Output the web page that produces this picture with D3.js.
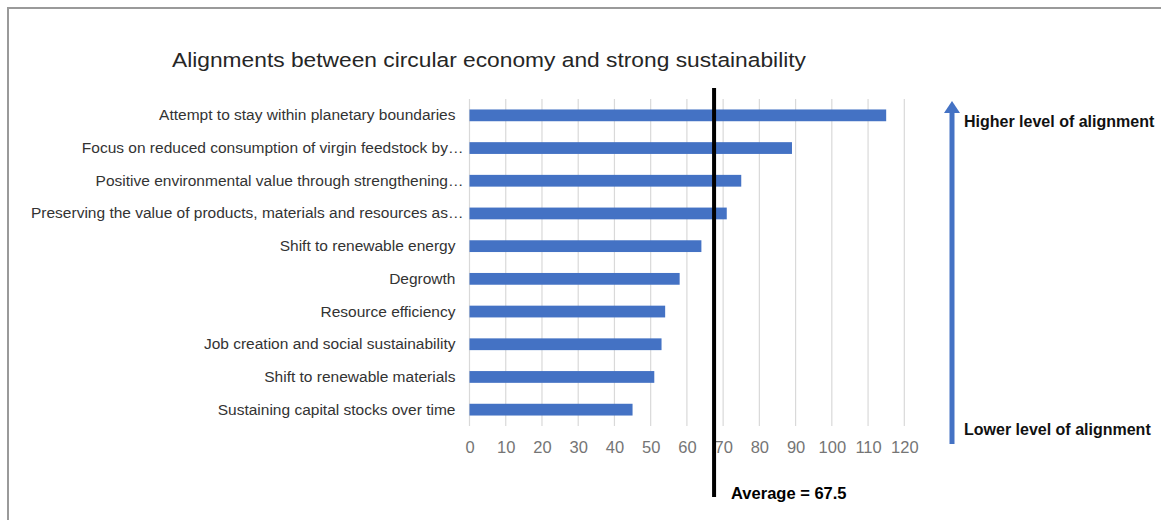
<!DOCTYPE html>
<html>
<head>
<meta charset="utf-8">
<script src="https://cdn.jsdelivr.net/npm/d3@7"></script>
<style>
  html, body { margin: 0; padding: 0; background: #fff; }
  svg { display: block; }
</style>
</head>
<body>
<svg id="chart" width="1161" height="520"></svg>
<script>
const categories = [
  "Attempt to stay within planetary boundaries",
  "Focus on reduced consumption of virgin feedstock by…",
  "Positive environmental value through strengthening…",
  "Preserving the value of products, materials and resources as…",
  "Shift to renewable energy",
  "Degrowth",
  "Resource efficiency",
  "Job creation and social sustainability",
  "Shift to renewable materials",
  "Sustaining capital stocks over time"
];
const values = [115, 89, 75, 71, 64, 58, 54, 53, 51, 45];
const tickValues = [0, 10, 20, 30, 40, 50, 60, 70, 80, 90, 100, 110, 120];
const averageValue = 67.5;
const titleText = "Alignments between circular economy and strong sustainability";
const averageLabel = "Average = 67.5";
const higherLabel = "Higher level of alignment";
const lowerLabel = "Lower level of alignment";

const svg = d3.select("#chart");
const fontFam = "'Liberation Sans', Arial, sans-serif";

// frame
svg.append("path")
  .attr("d", "M8,521 L8,8 L1162,8")
  .attr("fill", "none")
  .attr("stroke", "#9a9a9a")
  .attr("stroke-width", 2);

const plot = { left: 469.5, right: 904.3, top: 99, bottom: 426 };

const x = d3.scaleLinear().domain([0, 120]).range([plot.left, plot.right]);
const y = d3.scaleBand().domain(categories).range([plot.top, plot.bottom]).paddingInner(0.64).paddingOuter(0.32);

// title
svg.append("text")
  .attr("x", 172).attr("y", 67)
  .attr("font-family", fontFam)
  .attr("font-size", 20.5)
  .attr("fill", "#262626")
  .attr("textLength", 634)
  .attr("lengthAdjust", "spacingAndGlyphs")
  .text(titleText);

// gridlines
svg.append("g").selectAll("line")
  .data(tickValues)
  .join("line")
  .attr("x1", d => x(d)).attr("x2", d => x(d))
  .attr("y1", plot.top).attr("y2", plot.bottom)
  .attr("stroke", "#d9d9d9")
  .attr("stroke-width", 1.2);

// x axis
const xAxis = d3.axisBottom(x).tickValues(tickValues).tickSize(0).tickPadding(15);
const gx = svg.append("g").attr("transform", `translate(0,${plot.bottom})`).call(xAxis);
gx.select(".domain").remove();
gx.selectAll("text")
  .attr("font-family", fontFam)
  .attr("font-size", 16.5)
  .attr("fill", "#757575");

// y axis labels
const yAxis = d3.axisLeft(y).tickSize(0).tickPadding(14);
const gy = svg.append("g").attr("transform", `translate(${plot.left},0)`).call(yAxis);
gy.select(".domain").remove();
gy.selectAll("text")
  .attr("font-family", fontFam)
  .attr("font-size", 15.5)
  .attr("fill", "#333333")
  .attr("dx", d => d.endsWith("…") ? 8 : 0);

// bars
svg.append("g").selectAll("rect")
  .data(categories)
  .join("rect")
  .attr("x", x(0))
  .attr("y", d => y(d))
  .attr("width", (d, i) => x(values[i]) - x(0))
  .attr("height", y.bandwidth())
  .attr("fill", "#4472C4");

// average line
svg.append("line")
  .attr("x1", x(averageValue)).attr("x2", x(averageValue))
  .attr("y1", 88).attr("y2", 497)
  .attr("stroke", "#000")
  .attr("stroke-width", 4);

svg.append("text")
  .attr("x", x(averageValue) + 17).attr("y", 499)
  .attr("font-family", fontFam)
  .attr("font-weight", "bold")
  .attr("font-size", 16.5)
  .attr("fill", "#000")
  .text(averageLabel);

// arrow
const ax = 952;
svg.append("line")
  .attr("x1", ax).attr("x2", ax)
  .attr("y1", 110).attr("y2", 444)
  .attr("stroke", "#4472C4")
  .attr("stroke-width", 5);
svg.append("path")
  .attr("d", `M${ax - 8},113 L${ax},101 L${ax + 8},113 Z`)
  .attr("fill", "#4472C4");

svg.append("text")
  .attr("x", 964).attr("y", 127)
  .attr("font-family", fontFam)
  .attr("font-weight", "bold")
  .attr("font-size", 16)
  .attr("fill", "#111")
  .text(higherLabel);

svg.append("text")
  .attr("x", 964).attr("y", 435)
  .attr("font-family", fontFam)
  .attr("font-weight", "bold")
  .attr("font-size", 16)
  .attr("fill", "#111")
  .text(lowerLabel);
</script>
</body>
</html>
